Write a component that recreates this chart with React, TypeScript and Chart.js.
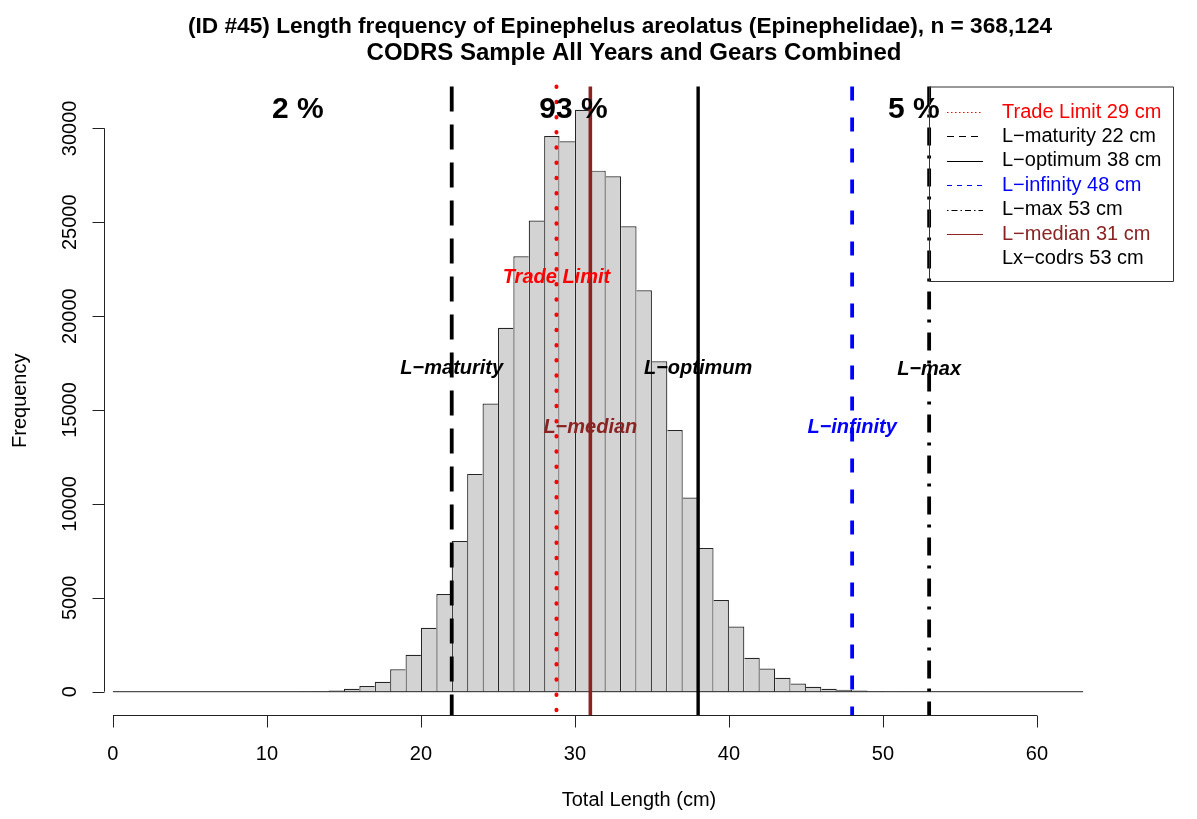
import React, { useEffect, useRef } from "react";
import { Chart, registerables } from "chart.js";

Chart.register(...registerables);

// ---------- data ----------
const binLeft = [
  0, 1, 2, 3, 4, 5, 6, 7, 8, 9, 10, 11, 12, 13, 14, 15, 16, 17, 18, 19, 20,
  21, 22, 23, 24, 25, 26, 27, 28, 29, 30, 31, 32, 33, 34, 35, 36, 37, 38, 39,
  40, 41, 42, 43, 44, 45, 46, 47, 48, 49, 50, 51, 52, 53, 54, 55, 56, 57, 58,
  59, 60, 61, 62,
];
const counts = [
  0, 0, 0, 0, 0, 0, 0, 0, 0, 0, 0, 0, 5, 20, 70, 160, 300, 530, 1190, 1970,
  3400, 5200, 8030, 11600, 15350, 19380, 23190, 25090, 29590, 29310, 30990,
  27750, 27450, 24790, 21380, 17600, 13940, 10340, 7660, 4880, 3470, 1810,
  1240, 745, 440, 265, 160, 100, 60, 30, 15, 8, 4, 2, 1, 1, 0, 0, 0, 0, 0, 0, 0,
];
const xTicks = [0, 10, 20, 30, 40, 50, 60];
const yTicks = [0, 5000, 10000, 15000, 20000, 25000, 30000];

const refNames = ["Trade Limit", "L\u2212maturity", "L\u2212optimum", "L\u2212infinity", "L\u2212max", "L\u2212median"];
const refValues = [28.8, 22, 38, 48, 53, 31];
const refLabelY = [22050, 17200, 17200, 14050, 17150, 14050];

const legendTexts = [
  "Trade Limit 29 cm",
  "L\u2212maturity 22 cm",
  "L\u2212optimum 38 cm",
  "L\u2212infinity 48 cm",
  "L\u2212max 53 cm",
  "L\u2212median 31 cm",
  "Lx\u2212codrs 53 cm",
];

const pctLabels = ["2 %", "93 %", "5 %"];
const pctX = [12, 29.9, 52];
const pctY = 30990;

const titleLines = [
  "(ID #45) Length frequency of Epinephelus areolatus (Epinephelidae), n = 368,124",
  "CODRS Sample All Years and Gears Combined",
];

// ---------- styles ----------
const FONT = "'Liberation Sans', Arial, Helvetica, sans-serif";
const Y_MIN = -1240;
const Y_MAX = 32230;
const X_MIN = -0.58;
const X_MAX = 68.9;
const BROWN = "#8B2323";

const refStyles = [
  { color: "#FF0000", dash: [0.5, 14.7], width: 4, cap: "round" },
  { color: "#000000", dash: [25, 13], width: 3.8, cap: "butt" },
  { color: "#000000", dash: [], width: 3.4, cap: "butt" },
  { color: "#0000FF", dash: [14, 17], width: 3.8, cap: "butt" },
  { color: "#000000", dash: [18, 10, 3, 10], width: 3.8, cap: "butt" },
  { color: BROWN, dash: [], width: 3.6, cap: "butt" },
];
const legendColors = ["#FF0000", "#000000", "#000000", "#0000FF", "#000000", BROWN, "#000000"];
const legendDash = [[1.5, 2.5], [7, 5], [], [5, 5], [1.5, 3, 6, 3], [], null];

const overlayPlugin = {
  id: "overlay",
  afterDatasetsDraw(chart: any) {
    const ctx = chart.ctx;
    const xs = chart.scales.x;
    const ys = chart.scales.y;
    ctx.save();
    ctx.fillStyle = "#000";
    ctx.font = `bold 30px ${FONT}`;
    ctx.textAlign = "center";
    ctx.textBaseline = "middle";
    pctLabels.forEach((t, i) => {
      ctx.fillText(t, xs.getPixelForValue(pctX[i]), ys.getPixelForValue(pctY));
    });
    ctx.font = `italic bold 20px ${FONT}`;
    refNames.forEach((t, i) => {
      ctx.fillStyle = refStyles[i].color;
      ctx.fillText(t, xs.getPixelForValue(refValues[i]), ys.getPixelForValue(refLabelY[i]));
    });
    ctx.restore();
  },
  afterDraw(chart: any) {
    const ctx = chart.ctx;
    const xs = chart.scales.x;
    const ys = chart.scales.y;
    const area = chart.chartArea;
    ctx.save();
    ctx.strokeStyle = "#222";
    ctx.fillStyle = "#000";
    ctx.lineWidth = 1;
    // x axis
    const ax = area.bottom + 0.5;
    const x0 = xs.getPixelForValue(xTicks[0]);
    const x1 = xs.getPixelForValue(xTicks[xTicks.length - 1]);
    ctx.beginPath();
    ctx.moveTo(x0, ax);
    ctx.lineTo(x1, ax);
    xTicks.forEach((v) => {
      const p = Math.round(xs.getPixelForValue(v)) + 0.5;
      ctx.moveTo(p, ax);
      ctx.lineTo(p, ax + 12);
    });
    ctx.stroke();
    ctx.font = `20px ${FONT}`;
    ctx.textAlign = "center";
    ctx.textBaseline = "alphabetic";
    xTicks.forEach((v) => {
      ctx.fillText(String(v), xs.getPixelForValue(v), 760);
    });
    // y axis
    const ay = area.left + 0.5;
    const y0 = ys.getPixelForValue(yTicks[0]);
    const y1 = ys.getPixelForValue(yTicks[yTicks.length - 1]);
    ctx.beginPath();
    ctx.moveTo(ay, y0);
    ctx.lineTo(ay, y1);
    yTicks.forEach((v) => {
      const p = Math.round(ys.getPixelForValue(v)) + 0.5;
      ctx.moveTo(ay, p);
      ctx.lineTo(ay - 12, p);
    });
    ctx.stroke();
    yTicks.forEach((v) => {
      ctx.save();
      ctx.translate(76, ys.getPixelForValue(v));
      ctx.rotate(-Math.PI / 2);
      ctx.fillText(String(v), 0, 0);
      ctx.restore();
    });
    // axis titles
    ctx.fillText("Total Length (cm)", (area.left + area.right) / 2, 806);
    ctx.save();
    ctx.translate(26, (area.top + area.bottom) / 2);
    ctx.rotate(-Math.PI / 2);
    ctx.fillText("Frequency", 0, 0);
    ctx.restore();
    // title
    ctx.font = `bold 22.7px ${FONT}`;
    ctx.fillText(titleLines[0], 620, 33);
    ctx.font = `bold 24px ${FONT}`;
    ctx.fillText(titleLines[1], 634, 60);
    // legend
    const lx0 = 929.5;
    const lx1 = area.right - 0.5;
    const ly0 = area.top + 0.5;
    const ly1 = 281.5;
    ctx.strokeStyle = "#333";
    ctx.lineWidth = 1;
    ctx.beginPath();
    ctx.rect(lx0, ly0, lx1 - lx0, ly1 - ly0);
    ctx.stroke();
    ctx.font = `20px ${FONT}`;
    ctx.textAlign = "left";
    ctx.textBaseline = "middle";
    legendTexts.forEach((t, i) => {
      const yy = 112 + i * 24.4;
      const d = legendDash[i];
      if (d) {
        ctx.beginPath();
        ctx.setLineDash(d);
        ctx.strokeStyle = legendColors[i];
        ctx.moveTo(947, Math.round(yy) + 0.5);
        ctx.lineTo(983, Math.round(yy) + 0.5);
        ctx.stroke();
        ctx.setLineDash([]);
      }
      ctx.fillStyle = legendColors[i];
      ctx.fillText(t, 1002, yy);
    });
    ctx.restore();
  },
};

export default function App() {
  const ref = useRef<HTMLCanvasElement | null>(null);
  useEffect(() => {
    if (!ref.current) return;
    const barData = binLeft.map((b, i) => ({ x: b + 0.5, y: counts[i] }));
    const refDatasets = refValues.map((v, i) => ({
      type: "line" as const,
      label: refNames[i],
      data: [
        { x: v, y: Y_MAX },
        { x: v, y: Y_MIN },
      ],
      borderColor: refStyles[i].color,
      borderWidth: refStyles[i].width,
      borderDash: refStyles[i].dash,
      borderCapStyle: refStyles[i].cap,
      pointRadius: 0,
      fill: false,
      clip: false,
      order: i === 4 ? 0 : 1,
    }));
    const chart = new Chart(ref.current, {
      type: "line",
      data: {
        datasets: [
          ...refDatasets,
          {
            type: "line" as const,
            label: "baseline",
            data: [
              { x: binLeft[0], y: 0 },
              { x: binLeft[binLeft.length - 1] + 1, y: 0 },
            ],
            borderColor: "#222",
            borderWidth: 1,
            pointRadius: 0,
            fill: false,
            order: 2,
          },
          {
            type: "bar" as const,
            label: "Frequency",
            data: barData,
            backgroundColor: "#D3D3D3",
            borderColor: "#262626",
            borderWidth: (c: any) => {
              const i = c.dataIndex;
              const v = counts[i] ?? 0;
              const prev = i > 0 ? counts[i - 1] : 0;
              const next = i < counts.length - 1 ? counts[i + 1] : 0;
              return { top: 1.2, bottom: 0, left: v >= prev ? 1.2 : 0, right: v > next ? 1.2 : 0 };
            },
            borderSkipped: false,
            barPercentage: 1,
            categoryPercentage: 1,
            grouped: false,
            inflateAmount: 0,
            order: 10,
          } as any,
        ],
      },
      options: {
        animation: false,
        responsive: false,
        maintainAspectRatio: false,
        layout: { padding: { left: 104, right: 23, top: 86.5, bottom: 104 } },
        scales: {
          x: { type: "linear", min: X_MIN, max: X_MAX, display: false, offset: false },
          y: { type: "linear", min: Y_MIN, max: Y_MAX, display: false },
        },
        plugins: {
          legend: { display: false },
          title: { display: false },
          tooltip: { enabled: false },
        },
      } as any,
      plugins: [overlayPlugin],
    });
    return () => chart.destroy();
  }, []);
  return (
    <div style={{ position: "fixed", left: 0, top: 0, width: 1197, height: 819, background: "#fff" }}>
      <canvas ref={ref} width={1197} height={819} style={{ width: 1197, height: 819, display: "block" }} />
    </div>
  );
}
